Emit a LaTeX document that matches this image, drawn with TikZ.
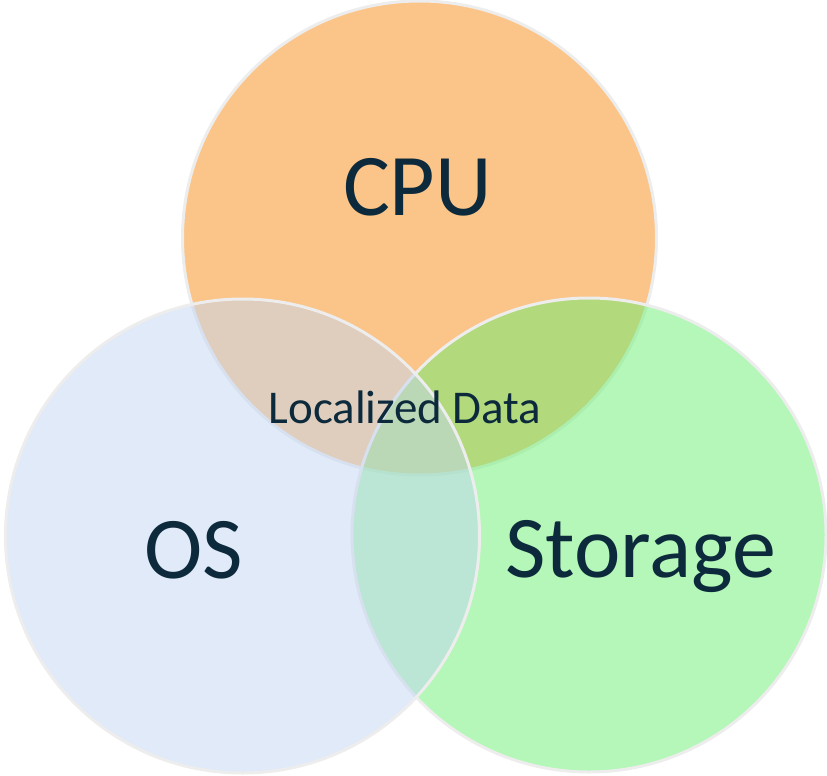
\documentclass[tikz,border=0pt]{standalone}
\usepackage{fontspec}
\setmainfont{Carlito}
\definecolor{cpufill}{HTML}{F78B13}
\definecolor{osfill}{HTML}{C3D5F1}
\definecolor{storefill}{HTML}{6BEF71}
\definecolor{ringgray}{HTML}{EDEDED}
\definecolor{labelink}{HTML}{0C2A3B}
\tikzset{
  venn/.style={circle, inner sep=0pt, minimum size=474pt, draw=ringgray,
               line width=3pt, fill opacity=0.5},
  biglabel/.style={anchor=base, inner sep=0pt, text=labelink,
                   font=\fontsize{88}{88}\selectfont},
  midlabel/.style={anchor=base, inner sep=0pt, text=labelink,
                   font=\fontsize{47}{47}\selectfont}
}
\begin{document}
\begin{tikzpicture}[x=1pt,y=-1pt]
\useasboundingbox (0,0) rectangle (827,776);
% the three sets, drawn back to front
\node[venn, fill=cpufill]   (cpu)     at (419.5,238) {};
\node[venn, fill=storefill] (storage) at (589,535) {};
\node[venn, fill=osfill]    (os)      at (242.5,536) {};
% set names
\node[biglabel] (cpulbl)     at (417.5,215) {CPU};
\node[biglabel] (oslbl)      at (194,578) {OS};
\node[biglabel] (storelbl)   at (641,577) {Storage};
\node[midlabel] (centrelbl)  at (405,423) {Localized Data};
\end{tikzpicture}
\end{document}
